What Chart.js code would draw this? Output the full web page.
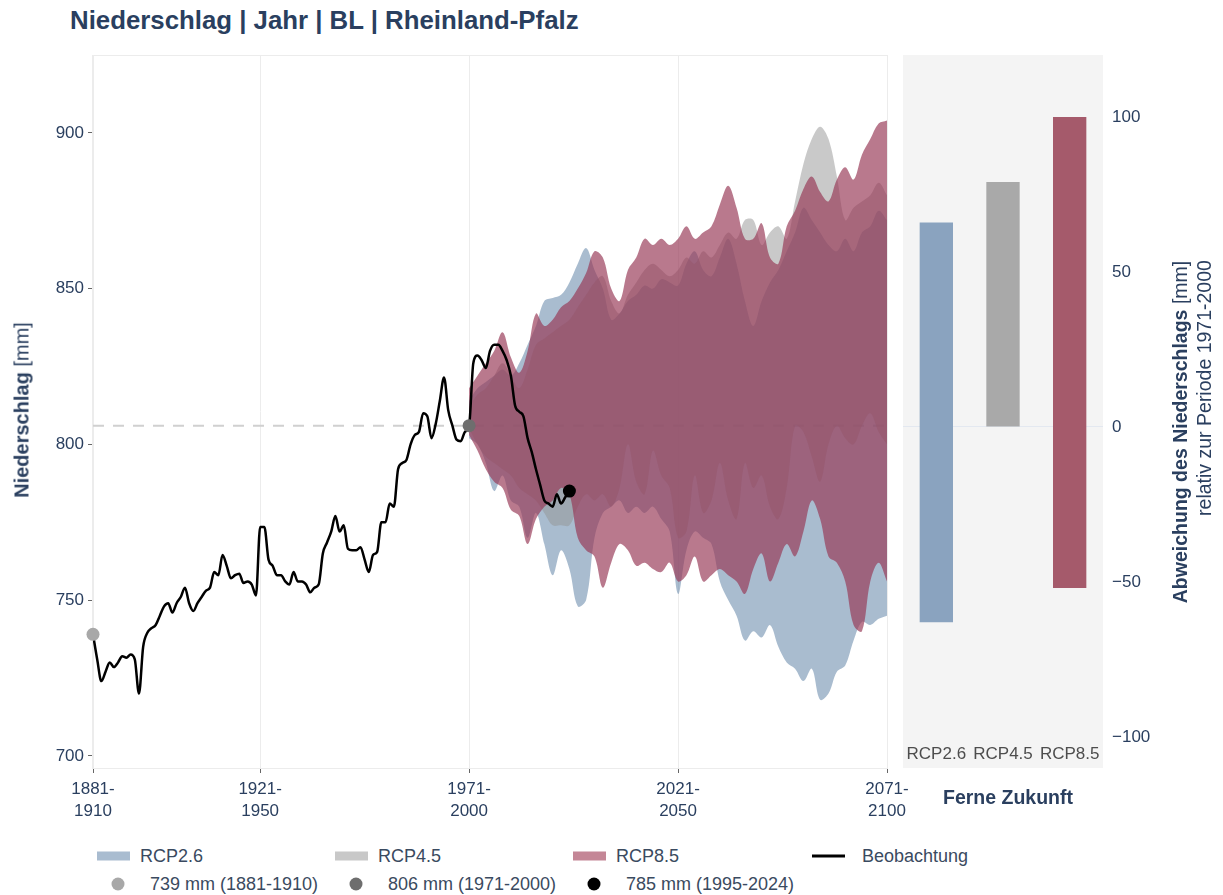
<!DOCTYPE html>
<html>
<head>
<meta charset="utf-8">
<script src="https://cdn.jsdelivr.net/npm/chart.js@4.4.0/dist/chart.umd.min.js"></script>
<style>
  html,body{margin:0;padding:0;background:#fff;}
  body{width:1223px;height:895px;overflow:hidden;position:relative;font-family:"Liberation Sans",Arial,sans-serif;color:#2a3f5f;}
  #title{position:absolute;left:70px;top:6px;font-weight:bold;font-size:25.8px;color:#2a3f5f;white-space:nowrap;}
  #cLeft{position:absolute;left:0;top:0;}
  #cRight{position:absolute;left:895px;top:0;}
  .rot{position:absolute;white-space:nowrap;transform:translate(-50%,-50%) rotate(-90deg);font-size:19.5px;color:#2a3f5f;}
  #ferne{position:absolute;left:1008px;top:797px;transform:translate(-50%,-50%);font-weight:bold;font-size:19.5px;color:#2a3f5f;white-space:nowrap;}
  .lg{position:absolute;font-size:18px;color:#3a4a60;white-space:nowrap;transform:translateY(-50%);}
  .sw{position:absolute;transform:translateY(-50%);}
  .dot{position:absolute;width:13px;height:13px;border-radius:50%;transform:translate(-50%,-50%);}
</style>
</head>
<body>
<div id="title">Niederschlag | Jahr | BL | Rheinland-Pfalz</div>
<canvas id="cLeft" width="915" height="840"></canvas>
<canvas id="cRight" width="328" height="840"></canvas>
<div class="rot" style="left:22px;top:410px;font-size:20px;"><b>Niederschlag</b> [mm]</div>
<div class="rot" style="left:1180px;top:432px;"><b>Abweichung des Niederschlags</b> [mm]</div>
<div class="rot" style="left:1204px;top:388px;">relativ zur Periode 1971-2000</div>
<div id="ferne">Ferne Zukunft</div>
<div id="legend"></div>
<script>
// ---------------- DATA ----------------
const bandYears = [1971,1973,1975,1977,1979,1981,1983,1985,1987,1989,
                   1991,1993,1995,1997,1999,2001,2003,2005,2007,2009,
                   2011,2013,2015,2017,2019,2021,2023,2025,2027,2029,
                   2031,2033,2035,2037,2039,2041,2043,2045,2047,2049,
                   2051,2053,2055,2057,2059,2061,2063,2065,2067,2069,2071];

const rcp26Upper = [814,818,820,822,824,822,826,832,838,846,
                    847,848,852,858,863,856,850,840,842,846,
                    848,851,850,853,852,851,858,862,856,854,
                    860,866,858,846,838,846,852,856,862,868,
                    876,872,868,864,862,866,862,868,870,875,872];
const rcp26Lower = [802,800,794,785,790,782,780,770,778,768,
                    758,766,760,748,750,770,778,780,782,778,
                    780,778,780,776,772,752,766,772,770,768,
                    756,750,745,737,740,738,742,735,730,728,
                    724,728,718,720,727,729,737,743,742,744,745];

const rcp45Upper = [812,816,818,822,826,822,818,824,832,834,
                    836,838,840,844,848,852,854,846,842,848,
                    852,856,858,856,854,856,860,858,862,860,
                    864,868,866,872,872,864,868,870,866,878,
                    890,898,902,898,886,872,876,878,880,884,880];
const rcp45Lower = [805,800,796,794,792,790,786,784,782,778,
                    774,774,774,780,784,782,784,780,786,800,
                    788,784,798,790,786,770,772,790,778,782,
                    794,782,776,794,786,790,780,776,786,806,
                    804,796,788,800,806,802,800,806,810,804,800];

const rcp85Upper = [818,822,826,830,836,828,823,830,842,838,
                    840,844,846,850,855,862,860,850,846,856,
                    860,866,864,866,864,866,870,866,868,870,
                    877,883,876,866,866,871,860,858,870,875,
                    882,886,881,878,885,889,885,893,898,903,904];
const rcp85Lower = [803,798,792,788,786,779,777,768,776,780,
                    782,786,784,770,766,764,754,762,768,766,
                    761,762,760,759,762,756,758,764,756,758,
                    760,758,756,752,760,765,756,762,768,764,
                    772,782,776,764,762,756,742,740,756,762,756];

const obsYears = [1881,1882,1883,1884,1885,1886,1887,1888,1889,1890,
                  1891,1892,1893,1894,1895,1896,1897,1898,1899,1900,
                  1901,1902,1903,1904,1905,1906,1907,1908,1909,1910,
                  1911,1912,1913,1914,1915,1916,1917,1918,1919,1920,
                  1921,1922,1923,1924,1925,1926,1927,1928,1929,1930,
                  1931,1932,1933,1934,1935,1936,1937,1938,1939,1940,
                  1941,1942,1943,1944,1945,1946,1947,1948,1949,1950,
                  1951,1952,1953,1954,1955,1956,1957,1958,1959,1960,
                  1961,1962,1963,1964,1965,1966,1967,1968,1969,1970,
                  1971,1972,1973,1974,1975,1976,1977,1978,1979,1980,
                  1981,1982,1983,1984,1985,1986,1987,1988,1989,1990,
                  1991,1992,1993,1994,1995];
const obsValues = [739,731,724,727,730,728.5,730,732,731.5,732.5,
                   731,720,735,739.5,741,742,745,748,749,746,
                   749,751,754,749,746.5,749,751,753,754,759,
                   758,764.5,761,757,758,758.5,755.5,756,755,751.5,
                   773.5,773.5,763,761,758,758,756,755,759,756,
                   756,755,752.5,754,755,765,768.5,772,777,772,
                   774,766.5,766,766,767,763,759,764.5,765.5,775,
                   775,781,780,792,794,795,800,803,804,810,
                   809,802,806.5,814,821.5,811,806,801.5,801,804,
                   806,826,828.5,827,824.5,830,832,832,830,827,
                   822,812.5,810.5,809,802,797.5,792,787,782,781,
                   780,784,781,783,785];

const refYears  = [1881, 1971, 1995];
const refValues = [739, 806, 785];
const refLabels = ['739 mm (1881-1910)', '806 mm (1971-2000)', '785 mm (1995-2024)'];
const baseline = 806;

const leftTicks   = [700, 750, 800, 850, 900];
const xTickYears  = [1881, 1921, 1971, 2021, 2071];
const xTickLabels = [['1881-','1910'], ['1921-','1950'], ['1971-','2000'], ['2021-','2050'], ['2071-','2100']];

const scenarios = ['RCP2.6', 'RCP4.5', 'RCP8.5'];
const farLow  = [-63, 0, -52];
const farHigh = [66, 79, 100];
const rightTicks = [-100, -50, 0, 50, 100];

// ---------------- STYLE ----------------
const bandFill   = ['rgba(112,143,175,0.6)', 'rgba(147,147,147,0.5)', 'rgba(150,55,85,0.67)'];
const bandLegend = ['#a9bcd0', '#c8c8c8', '#c48696'];
const barColors  = ['#8aa3bf', '#a9a9a9', '#a55a6b'];
const dotColors  = ['#a8a8a8', '#6e6e6e', '#000000'];
const tickColor  = '#2a3f5f';
const FONT = '"Liberation Sans", Arial, sans-serif';

const pts = (xs, ys) => xs.map((x, i) => ({x: x, y: ys[i]}));

// ---------------- LEFT CHART ----------------
const bandUp = [rcp26Upper, rcp45Upper, rcp85Upper];
const bandLo = [rcp26Lower, rcp45Lower, rcp85Lower];
const datasets = [];
scenarios.forEach((s, i) => {
  datasets.push({label: s + ' max', data: pts(bandYears, bandUp[i]), fill: '+1',
    backgroundColor: bandFill[i], borderColor: 'transparent', borderWidth: 0,
    pointRadius: 0, tension: 0.35, order: 6 - i});
  datasets.push({label: s + ' min', data: pts(bandYears, bandLo[i]), fill: false,
    backgroundColor: bandFill[i], borderColor: 'transparent', borderWidth: 0,
    pointRadius: 0, tension: 0.35, order: 6 - i});
});
datasets.push({label: 'Referenz', data: [{x: 1881, y: baseline}, {x: 2071, y: baseline}],
  borderColor: '#d0d0d0', borderWidth: 2, borderDash: [11, 9], pointRadius: 0, fill: false, order: 9});
datasets.push({label: 'Beobachtung', data: pts(obsYears, obsValues), borderColor: '#000',
  borderWidth: 2.5, pointRadius: 0, cubicInterpolationMode: 'monotone', fill: false, order: 1});
refYears.forEach((yr, i) => {
  datasets.push({label: refLabels[i], data: [{x: yr, y: refValues[i]}], showLine: false,
    pointRadius: 6.5, pointBackgroundColor: dotColors[i], pointBorderWidth: 0,
    pointBorderColor: dotColors[i], clip: false, order: 0});
});

const frame = {
  id: 'frame',
  beforeDatasetsDraw(chart) {
    const a = chart.chartArea, c = chart.ctx;
    c.save(); c.strokeStyle = '#ececec'; c.lineWidth = 1;
    c.strokeRect(a.left - 0.5, a.top + 0.5, a.right - a.left + 1, a.bottom - a.top);
    c.restore();
  }
};

new Chart(document.getElementById('cLeft'), {
  type: 'line',
  data: {datasets: datasets},
  options: {
    responsive: false, animation: false, devicePixelRatio: 1,
    layout: {padding: {left: 0, right: 28, top: 55, bottom: 0}},
    plugins: {legend: {display: false}, tooltip: {enabled: false}, filler: {propagate: false}},
    scales: {
      x: {
        type: 'linear', min: 1881, max: 2071,
        afterBuildTicks: (s) => { s.ticks = xTickYears.map(v => ({value: v})); },
        afterFit: (s) => { s.height = 72; },
        ticks: {autoSkip: false, maxRotation: 0, padding: 5, color: tickColor,
          font: {family: FONT, size: 17, lineHeight: 1.3}, callback: (v, i) => xTickLabels[i]},
        grid: {color: '#ececec', tickColor: '#666', tickLength: 5, lineWidth: 1},
        border: {display: true, color: '#e6e6e6'}
      },
      y: {
        type: 'linear', min: 696.1, max: 925,
        afterBuildTicks: (s) => { s.ticks = leftTicks.map(v => ({value: v})); },
        afterFit: (s) => { s.width = 93; },
        ticks: {padding: 4, color: tickColor, font: {family: FONT, size: 17}},
        grid: {drawOnChartArea: false, tickColor: '#666', tickLength: 5},
        border: {display: true, color: '#ececec'}
      }
    }
  },
  plugins: [frame]
});

// ---------------- RIGHT CHART ----------------
const panelBg = {
  id: 'panelBg',
  beforeDraw(chart) {
    const a = chart.chartArea, c = chart.ctx;
    c.save(); c.fillStyle = '#f4f4f4';
    c.fillRect(a.left, a.top, a.right - a.left, a.bottom - a.top + 28);
    c.restore();
  }
};

new Chart(document.getElementById('cRight'), {
  type: 'bar',
  data: {
    labels: scenarios,
    datasets: [{data: farLow.map((l, i) => [l, farHigh[i]]), backgroundColor: barColors,
      borderWidth: 0, barPercentage: 0.5, categoryPercentage: 1}]
  },
  options: {
    responsive: false, animation: false, devicePixelRatio: 1,
    layout: {padding: {left: 8, right: 0, top: 55, bottom: 0}},
    plugins: {legend: {display: false}, tooltip: {enabled: false}},
    scales: {
      x: {
        afterFit: (s) => { s.height = 100; },
        ticks: {padding: -4, color: '#4d4d4d', font: {family: FONT, size: 17}},
        grid: {display: false}, border: {display: false}
      },
      y: {
        position: 'right', min: -101, max: 120,
        afterBuildTicks: (s) => { s.ticks = rightTicks.map(v => ({value: v})); },
        afterFit: (s) => { s.width = 120; },
        ticks: {padding: 9, color: tickColor, font: {family: FONT, size: 17},
          callback: (v) => (v < 0 ? '\u2212' + Math.abs(v) : String(v))},
        grid: {drawTicks: false, color: (ctx) => (ctx.tick && ctx.tick.value === 0 ? '#e3e8f0' : 'transparent')},
        border: {display: false}
      }
    }
  },
  plugins: [panelBg]
});

// ---------------- LEGEND (HTML) ----------------
const lg = document.getElementById('legend');
const colX = [97, 335, 573, 812];
function add(html){ lg.insertAdjacentHTML('beforeend', html); }
scenarios.forEach((s, i) => {
  add(`<div class="sw" style="left:${colX[i]}px;top:856px;width:33px;height:9px;background:${bandLegend[i]}"></div>`);
  add(`<div class="lg" style="left:${colX[i] + 43}px;top:856px">${s}</div>`);
});
add(`<div class="sw" style="left:${colX[3]}px;top:856px;width:33px;height:3px;background:#000"></div>`);
add(`<div class="lg" style="left:${colX[3] + 50}px;top:856px">Beobachtung</div>`);
refLabels.forEach((t, i) => {
  add(`<div class="dot" style="left:${colX[i] + 21}px;top:884px;background:${dotColors[i]}"></div>`);
  add(`<div class="lg" style="left:${colX[i] + 53}px;top:884px">${t}</div>`);
});
</script>
</body>
</html>
